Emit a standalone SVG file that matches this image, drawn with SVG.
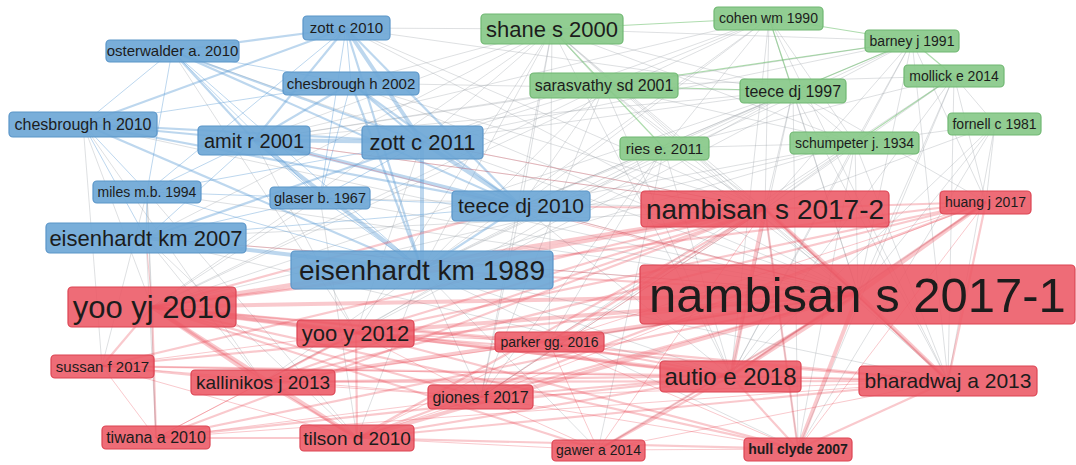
<svg xmlns="http://www.w3.org/2000/svg" width="1076" height="465" viewBox="0 0 1076 465">
<style>
.eg{stroke:#9aa2a6;stroke-opacity:.33;stroke-width:1;fill:none}
.en{stroke:#6cbf6c;stroke-opacity:.55;stroke-width:1.2}
.eb{stroke:#5b9bd5;stroke-opacity:.4}
.er{stroke:#ea3c4c;stroke-opacity:.28}
.w1{stroke-width:1}
.w2{stroke-width:2.2}
.w3{stroke-width:4}
.nb{fill:#6ea7d6;stroke:#5a95c8;stroke-width:1.2;fill-opacity:.92}
.ng{fill:#88c989;stroke:#70b872;stroke-width:1.2;fill-opacity:.92}
.nr{fill:#ec5864;stroke:#dc4453;stroke-width:1.2;fill-opacity:.88}
text{font-family:"Liberation Sans",Arial,sans-serif;fill:#1c1c1c;text-anchor:middle}
</style>
<rect width="1076" height="465" fill="#ffffff"/>
<g id="connectors">
<g class="eg">
<line x1="552" y1="29" x2="604" y2="86"/><line x1="552" y1="29" x2="793" y2="91"/><line x1="552" y1="29" x2="912" y2="41"/>
<line x1="552" y1="29" x2="422" y2="142"/><line x1="552" y1="29" x2="254" y2="140"/><line x1="552" y1="29" x2="422" y2="270"/>
<line x1="552" y1="29" x2="521" y2="206"/><line x1="552" y1="29" x2="765" y2="209"/><line x1="552" y1="29" x2="858" y2="294"/>
<line x1="552" y1="29" x2="731" y2="376"/><line x1="552" y1="29" x2="152" y2="307"/><line x1="552" y1="29" x2="351" y2="83"/>
<line x1="552" y1="29" x2="346" y2="28"/><line x1="552" y1="29" x2="855" y2="143"/><line x1="552" y1="29" x2="481" y2="397"/>
<line x1="552" y1="29" x2="549" y2="342"/><line x1="552" y1="29" x2="146" y2="238"/><line x1="552" y1="29" x2="356" y2="333"/>
<line x1="552" y1="29" x2="948" y2="381"/>
<line x1="604" y1="86" x2="765" y2="209"/><line x1="604" y1="86" x2="858" y2="294"/><line x1="604" y1="86" x2="521" y2="206"/>
<line x1="604" y1="86" x2="422" y2="270"/><line x1="604" y1="86" x2="422" y2="142"/><line x1="604" y1="86" x2="731" y2="376"/>
<line x1="604" y1="86" x2="855" y2="143"/><line x1="604" y1="86" x2="769" y2="18"/><line x1="604" y1="86" x2="481" y2="397"/>
<line x1="604" y1="86" x2="954" y2="76"/><line x1="604" y1="86" x2="152" y2="307"/><line x1="604" y1="86" x2="254" y2="140"/>
<line x1="769" y1="18" x2="858" y2="294"/><line x1="769" y1="18" x2="765" y2="209"/><line x1="769" y1="18" x2="521" y2="206"/>
<line x1="769" y1="18" x2="422" y2="142"/><line x1="769" y1="18" x2="254" y2="140"/><line x1="769" y1="18" x2="422" y2="270"/>
<line x1="769" y1="18" x2="855" y2="143"/><line x1="769" y1="18" x2="948" y2="381"/><line x1="769" y1="18" x2="152" y2="307"/>
<line x1="769" y1="18" x2="664" y2="148"/><line x1="769" y1="18" x2="731" y2="376"/>
<line x1="912" y1="41" x2="858" y2="294"/><line x1="912" y1="41" x2="765" y2="209"/><line x1="912" y1="41" x2="521" y2="206"/>
<line x1="912" y1="41" x2="422" y2="142"/><line x1="912" y1="41" x2="254" y2="140"/><line x1="912" y1="41" x2="422" y2="270"/>
<line x1="912" y1="41" x2="855" y2="143"/><line x1="912" y1="41" x2="986" y2="202"/><line x1="912" y1="41" x2="356" y2="333"/>
<line x1="912" y1="41" x2="731" y2="376"/><line x1="912" y1="41" x2="948" y2="381"/>
<line x1="793" y1="91" x2="858" y2="294"/><line x1="793" y1="91" x2="765" y2="209"/><line x1="793" y1="91" x2="521" y2="206"/>
<line x1="793" y1="91" x2="422" y2="142"/><line x1="793" y1="91" x2="254" y2="140"/><line x1="793" y1="91" x2="422" y2="270"/>
<line x1="793" y1="91" x2="855" y2="143"/><line x1="793" y1="91" x2="731" y2="376"/><line x1="793" y1="91" x2="948" y2="381"/>
<line x1="793" y1="91" x2="152" y2="307"/><line x1="793" y1="91" x2="664" y2="148"/><line x1="793" y1="91" x2="263" y2="382"/>
<line x1="793" y1="91" x2="351" y2="83"/><line x1="793" y1="91" x2="346" y2="28"/><line x1="793" y1="91" x2="986" y2="202"/>
<line x1="793" y1="91" x2="798" y2="449"/>
<line x1="954" y1="76" x2="858" y2="294"/><line x1="954" y1="76" x2="765" y2="209"/><line x1="954" y1="76" x2="664" y2="148"/>
<line x1="954" y1="76" x2="995" y2="124"/><line x1="954" y1="76" x2="731" y2="376"/><line x1="954" y1="76" x2="986" y2="202"/>
<line x1="954" y1="76" x2="948" y2="381"/><line x1="954" y1="76" x2="549" y2="342"/><line x1="954" y1="76" x2="798" y2="449"/>
<line x1="664" y1="148" x2="858" y2="294"/><line x1="664" y1="148" x2="765" y2="209"/><line x1="664" y1="148" x2="521" y2="206"/>
<line x1="664" y1="148" x2="422" y2="270"/><line x1="664" y1="148" x2="731" y2="376"/><line x1="664" y1="148" x2="481" y2="397"/>
<line x1="664" y1="148" x2="356" y2="333"/><line x1="664" y1="148" x2="855" y2="143"/><line x1="664" y1="148" x2="549" y2="342"/>
<line x1="664" y1="148" x2="598" y2="450"/>
<line x1="855" y1="143" x2="858" y2="294"/><line x1="855" y1="143" x2="765" y2="209"/><line x1="855" y1="143" x2="731" y2="376"/>
<line x1="855" y1="143" x2="948" y2="381"/><line x1="855" y1="143" x2="521" y2="206"/><line x1="855" y1="143" x2="422" y2="270"/>
<line x1="855" y1="143" x2="481" y2="397"/><line x1="855" y1="143" x2="995" y2="124"/><line x1="855" y1="143" x2="798" y2="449"/>
<line x1="855" y1="143" x2="152" y2="307"/>
<line x1="995" y1="124" x2="858" y2="294"/><line x1="995" y1="124" x2="948" y2="381"/><line x1="995" y1="124" x2="986" y2="202"/>
<line x1="995" y1="124" x2="798" y2="449"/><line x1="995" y1="124" x2="765" y2="209"/><line x1="995" y1="124" x2="731" y2="376"/>
<line x1="146" y1="238" x2="858" y2="294"/><line x1="146" y1="238" x2="357" y2="438"/><line x1="146" y1="238" x2="263" y2="382"/>
<line x1="146" y1="238" x2="765" y2="209"/><line x1="147" y1="192" x2="152" y2="307"/><line x1="147" y1="192" x2="858" y2="294"/>
<line x1="147" y1="192" x2="156" y2="438"/><line x1="320" y1="198" x2="858" y2="294"/><line x1="320" y1="198" x2="152" y2="307"/>
<line x1="320" y1="198" x2="765" y2="209"/><line x1="83" y1="124" x2="152" y2="307"/><line x1="83" y1="124" x2="858" y2="294"/>
<line x1="83" y1="124" x2="102" y2="366"/><line x1="83" y1="124" x2="263" y2="382"/><line x1="172" y1="51" x2="858" y2="294"/>
<line x1="172" y1="51" x2="356" y2="333"/><line x1="254" y1="140" x2="765" y2="209"/><line x1="254" y1="140" x2="356" y2="333"/>
<line x1="422" y1="142" x2="765" y2="209"/><line x1="422" y1="142" x2="356" y2="333"/><line x1="521" y1="206" x2="858" y2="294"/>
<line x1="521" y1="206" x2="731" y2="376"/><line x1="521" y1="206" x2="481" y2="397"/><line x1="422" y1="270" x2="357" y2="438"/>
<line x1="422" y1="270" x2="263" y2="382"/><line x1="422" y1="270" x2="731" y2="376"/><line x1="422" y1="270" x2="948" y2="381"/>
<line x1="422" y1="270" x2="481" y2="397"/><line x1="346" y1="28" x2="765" y2="209"/><line x1="351" y1="83" x2="765" y2="209"/>
<line x1="351" y1="83" x2="858" y2="294"/><line x1="146" y1="238" x2="731" y2="376"/><line x1="147" y1="192" x2="357" y2="438"/>
<line x1="147" y1="192" x2="102" y2="366"/><line x1="320" y1="198" x2="357" y2="438"/><line x1="422" y1="270" x2="798" y2="449"/>
<line x1="422" y1="270" x2="598" y2="450"/><line x1="346" y1="28" x2="858" y2="294"/><line x1="156" y1="438" x2="146" y2="238"/>
<line x1="798" y1="449" x2="765" y2="209"/><line x1="731" y1="376" x2="986" y2="202"/><line x1="948" y1="381" x2="765" y2="209"/>
<line x1="598" y1="450" x2="858" y2="294"/><line x1="549" y1="342" x2="858" y2="294"/><line x1="481" y1="397" x2="765" y2="209"/>
</g>
<g class="en">
<line x1="552" y1="29" x2="664" y2="148"/><line x1="912" y1="41" x2="604" y2="86"/><line x1="912" y1="41" x2="793" y2="91"/>
<line x1="769" y1="18" x2="912" y2="41"/><line x1="912" y1="41" x2="954" y2="76"/><line x1="954" y1="76" x2="855" y2="143"/>
<line x1="552" y1="29" x2="769" y2="18"/><line x1="793" y1="91" x2="604" y2="86"/><line x1="769" y1="18" x2="793" y2="91"/>
</g>
<g class="eb">
<line class="w3" x1="254" y1="140" x2="422" y2="142"/><line class="w3" x1="422" y1="142" x2="521" y2="206"/>
<line class="w3" x1="346" y1="28" x2="422" y2="142"/><line class="w3" x1="146" y1="238" x2="422" y2="270"/>
<line class="w3" x1="422" y1="142" x2="422" y2="270"/><line class="w3" x1="254" y1="140" x2="422" y2="270"/>
<line class="w3" x1="254" y1="140" x2="521" y2="206"/>
<line class="w2" x1="346" y1="28" x2="254" y2="140"/><line class="w2" x1="346" y1="28" x2="521" y2="206"/>
<line class="w2" x1="346" y1="28" x2="422" y2="270"/><line class="w2" x1="351" y1="83" x2="422" y2="142"/>
<line class="w2" x1="351" y1="83" x2="254" y2="140"/><line class="w2" x1="351" y1="83" x2="521" y2="206"/>
<line class="w2" x1="172" y1="51" x2="254" y2="140"/><line class="w2" x1="172" y1="51" x2="422" y2="142"/>
<line class="w2" x1="83" y1="124" x2="254" y2="140"/><line class="w2" x1="83" y1="124" x2="422" y2="142"/>
<line class="w2" x1="521" y1="206" x2="422" y2="270"/><line class="w2" x1="83" y1="124" x2="422" y2="270"/>
<line class="w2" x1="346" y1="28" x2="83" y2="124"/><line class="w2" x1="346" y1="28" x2="172" y2="51"/>
<line class="w2" x1="172" y1="51" x2="521" y2="206"/><line class="w2" x1="351" y1="83" x2="422" y2="270"/>
<line class="w2" x1="146" y1="238" x2="422" y2="142"/><line class="w2" x1="83" y1="124" x2="521" y2="206"/>
<line class="w1" x1="172" y1="51" x2="83" y2="124"/><line class="w1" x1="172" y1="51" x2="422" y2="270"/>
<line class="w1" x1="83" y1="124" x2="147" y2="192"/><line class="w1" x1="83" y1="124" x2="146" y2="238"/>
<line class="w1" x1="147" y1="192" x2="422" y2="270"/><line class="w1" x1="147" y1="192" x2="320" y2="198"/>
<line class="w1" x1="320" y1="198" x2="422" y2="270"/><line class="w1" x1="320" y1="198" x2="254" y2="140"/>
<line class="w1" x1="320" y1="198" x2="422" y2="142"/><line class="w1" x1="147" y1="192" x2="422" y2="142"/>
<line class="w1" x1="146" y1="238" x2="254" y2="140"/><line class="w1" x1="146" y1="238" x2="521" y2="206"/>
<line class="w1" x1="346" y1="28" x2="351" y2="83"/><line class="w1" x1="351" y1="83" x2="83" y2="124"/>
<line class="w1" x1="172" y1="51" x2="351" y2="83"/><line class="w1" x1="147" y1="192" x2="254" y2="140"/>
<line class="w1" x1="320" y1="198" x2="521" y2="206"/><line class="w1" x1="146" y1="238" x2="147" y2="192"/>
<line class="w1" x1="172" y1="51" x2="320" y2="198"/><line class="w1" x1="172" y1="51" x2="147" y2="192"/>
<line class="w1" x1="346" y1="28" x2="320" y2="198"/><line class="w1" x1="346" y1="28" x2="147" y2="192"/>
<line class="w1" x1="351" y1="83" x2="320" y2="198"/><line class="w1" x1="146" y1="238" x2="320" y2="198"/>
</g>
<g class="er">
<line class="w3" x1="152" y1="307" x2="858" y2="294"/><line class="w3" x1="152" y1="307" x2="765" y2="209"/>
<line class="w3" x1="858" y1="294" x2="765" y2="209"/><line class="w3" x1="858" y1="294" x2="731" y2="376"/>
<line class="w3" x1="858" y1="294" x2="948" y2="381"/><line class="w3" x1="858" y1="294" x2="798" y2="449"/>
<line class="w3" x1="356" y1="333" x2="858" y2="294"/><line class="w3" x1="152" y1="307" x2="356" y2="333"/>
<line class="w3" x1="152" y1="307" x2="263" y2="382"/><line class="w3" x1="263" y1="382" x2="858" y2="294"/>
<line class="w3" x1="357" y1="438" x2="858" y2="294"/><line class="w3" x1="986" y1="202" x2="858" y2="294"/>
<line class="w3" x1="152" y1="307" x2="357" y2="438"/><line class="w3" x1="765" y1="209" x2="731" y2="376"/>
<line class="w3" x1="152" y1="307" x2="731" y2="376"/><line class="w3" x1="422" y1="270" x2="765" y2="209"/>
<line class="w2" x1="152" y1="307" x2="948" y2="381"/><line class="w2" x1="356" y1="333" x2="765" y2="209"/>
<line class="w2" x1="263" y1="382" x2="765" y2="209"/><line class="w2" x1="357" y1="438" x2="765" y2="209"/>
<line class="w2" x1="986" y1="202" x2="765" y2="209"/><line class="w2" x1="986" y1="202" x2="152" y2="307"/>
<line class="w2" x1="986" y1="202" x2="356" y2="333"/><line class="w2" x1="986" y1="202" x2="263" y2="382"/>
<line class="w2" x1="102" y1="366" x2="858" y2="294"/><line class="w2" x1="102" y1="366" x2="152" y2="307"/>
<line class="w2" x1="102" y1="366" x2="263" y2="382"/><line class="w2" x1="156" y1="438" x2="858" y2="294"/>
<line class="w2" x1="156" y1="438" x2="152" y2="307"/><line class="w2" x1="156" y1="438" x2="357" y2="438"/>
<line class="w2" x1="263" y1="382" x2="357" y2="438"/><line class="w2" x1="356" y1="333" x2="263" y2="382"/>
<line class="w2" x1="356" y1="333" x2="731" y2="376"/><line class="w2" x1="731" y1="376" x2="948" y2="381"/>
<line class="w2" x1="731" y1="376" x2="798" y2="449"/><line class="w2" x1="948" y1="381" x2="798" y2="449"/>
<line class="w2" x1="481" y1="397" x2="858" y2="294"/><line class="w2" x1="481" y1="397" x2="731" y2="376"/>
<line class="w2" x1="549" y1="342" x2="858" y2="294"/><line class="w2" x1="549" y1="342" x2="765" y2="209"/>
<line class="w2" x1="598" y1="450" x2="858" y2="294"/><line class="w2" x1="598" y1="450" x2="731" y2="376"/>
<line class="w2" x1="798" y1="449" x2="765" y2="209"/><line class="w2" x1="798" y1="449" x2="152" y2="307"/>
<line class="w2" x1="422" y1="270" x2="858" y2="294"/><line class="w2" x1="422" y1="270" x2="152" y2="307"/>
<line class="w2" x1="521" y1="206" x2="765" y2="209"/><line class="w2" x1="357" y1="438" x2="731" y2="376"/>
<line class="w2" x1="263" y1="382" x2="731" y2="376"/><line class="w2" x1="356" y1="333" x2="948" y2="381"/>
<line class="w2" x1="102" y1="366" x2="765" y2="209"/><line class="w2" x1="156" y1="438" x2="765" y2="209"/>
<line class="w2" x1="481" y1="397" x2="152" y2="307"/><line class="w2" x1="549" y1="342" x2="152" y2="307"/>
<line class="w2" x1="356" y1="333" x2="357" y2="438"/><line class="w2" x1="263" y1="382" x2="948" y2="381"/>
<line class="w2" x1="357" y1="438" x2="948" y2="381"/><line class="w2" x1="156" y1="438" x2="731" y2="376"/>
<line class="w2" x1="549" y1="342" x2="731" y2="376"/><line class="w2" x1="798" y1="449" x2="357" y2="438"/>
<line class="w2" x1="356" y1="333" x2="798" y2="449"/><line class="w2" x1="986" y1="202" x2="731" y2="376"/>
<line class="w2" x1="986" y1="202" x2="357" y2="438"/><line class="w2" x1="986" y1="202" x2="948" y2="381"/>
<line class="w2" x1="152" y1="307" x2="521" y2="206"/><line class="w2" x1="598" y1="450" x2="152" y2="307"/>
<line class="w2" x1="948" y1="381" x2="765" y2="209"/><line class="w2" x1="102" y1="366" x2="731" y2="376"/>
<line class="w1" x1="102" y1="366" x2="156" y2="438"/><line class="w1" x1="102" y1="366" x2="357" y2="438"/>
<line class="w1" x1="156" y1="438" x2="263" y2="382"/><line class="w1" x1="156" y1="438" x2="356" y2="333"/>
<line class="w1" x1="481" y1="397" x2="357" y2="438"/><line class="w1" x1="481" y1="397" x2="263" y2="382"/>
<line class="w1" x1="481" y1="397" x2="356" y2="333"/><line class="w1" x1="549" y1="342" x2="356" y2="333"/>
<line class="w1" x1="549" y1="342" x2="263" y2="382"/><line class="w1" x1="549" y1="342" x2="357" y2="438"/>
<line class="w1" x1="598" y1="450" x2="481" y2="397"/><line class="w1" x1="598" y1="450" x2="798" y2="449"/>
<line class="w1" x1="598" y1="450" x2="948" y2="381"/><line class="w1" x1="598" y1="450" x2="765" y2="209"/>
<line class="w1" x1="598" y1="450" x2="549" y2="342"/><line class="w1" x1="798" y1="449" x2="549" y2="342"/>
<line class="w1" x1="798" y1="449" x2="481" y2="397"/><line class="w1" x1="156" y1="438" x2="948" y2="381"/>
<line class="w1" x1="156" y1="438" x2="481" y2="397"/><line class="w1" x1="102" y1="366" x2="356" y2="333"/>
<line class="w1" x1="986" y1="202" x2="549" y2="342"/><line class="w1" x1="986" y1="202" x2="481" y2="397"/>
<line class="w1" x1="102" y1="366" x2="481" y2="397"/><line class="w1" x1="765" y1="209" x2="481" y2="397"/>
<line class="w1" x1="146" y1="238" x2="152" y2="307"/><line class="w1" x1="858" y1="294" x2="254" y2="140"/>
<line class="w1" x1="765" y1="209" x2="422" y2="142"/><line class="w1" x1="858" y1="294" x2="521" y2="206"/>
<line class="w1" x1="765" y1="209" x2="254" y2="140"/><line class="w1" x1="146" y1="238" x2="858" y2="294"/>
<line class="w1" x1="598" y1="450" x2="357" y2="438"/><line class="w1" x1="986" y1="202" x2="798" y2="449"/>
<line class="w1" x1="102" y1="366" x2="948" y2="381"/><line class="w1" x1="481" y1="397" x2="948" y2="381"/>
</g>
</g>
<g id="n-zott-c-2010"><rect class="nb" x="303" y="16" width="87" height="24" rx="4"/><text x="346.5" y="33.3" font-size="15">zott c 2010</text></g>
<g id="n-osterwalder-a-2010"><rect class="nb" x="106" y="40" width="133" height="22" rx="4"/><text x="172.5" y="56.3" font-size="15">osterwalder a. 2010</text></g>
<g id="n-chesbrough-h-2002"><rect class="nb" x="283" y="72" width="136" height="23" rx="4"/><text x="351" y="88.8" font-size="15">chesbrough h 2002</text></g>
<g id="n-chesbrough-h-2010"><rect class="nb" x="9" y="112" width="148" height="25" rx="4"/><text x="83" y="130.1" font-size="16">chesbrough h 2010</text></g>
<g id="n-amit-r-2001"><rect class="nb" x="198" y="126" width="112" height="29" rx="4"/><text x="254" y="147.5" font-size="20">amit r 2001</text></g>
<g id="n-zott-c-2011"><rect class="nb" x="362" y="126" width="121" height="33" rx="4"/><text x="422.5" y="150.2" font-size="22">zott c 2011</text></g>
<g id="n-miles-mb-1994"><rect class="nb" x="93" y="181" width="108" height="22" rx="4"/><text x="147" y="196.9" font-size="14">miles m.b. 1994</text></g>
<g id="n-glaser-b-1967"><rect class="nb" x="270" y="187" width="100" height="22" rx="4"/><text x="320" y="203" font-size="14.5">glaser b. 1967</text></g>
<g id="n-teece-dj-2010"><rect class="nb" x="452" y="191" width="138" height="30" rx="4"/><text x="521" y="213.4" font-size="21">teece dj 2010</text></g>
<g id="n-eisenhardt-km-2007"><rect class="nb" x="46" y="223" width="200" height="30" rx="4"/><text x="146" y="245.7" font-size="22">eisenhardt km 2007</text></g>
<g id="n-eisenhardt-km-1989"><rect class="nb" x="291" y="251" width="262" height="38" rx="4"/><text x="422" y="279.8" font-size="28">eisenhardt km 1989</text></g>
<g id="n-shane-s-2000"><rect class="ng" x="481" y="14" width="142" height="30" rx="4"/><text x="552" y="36.7" font-size="22">shane s 2000</text></g>
<g id="n-cohen-wm-1990"><rect class="ng" x="714" y="7" width="109" height="23" rx="4"/><text x="768.5" y="23.4" font-size="14">cohen wm 1990</text></g>
<g id="n-barney-j-1991"><rect class="ng" x="865" y="30" width="94" height="22" rx="4"/><text x="912" y="45.9" font-size="14">barney j 1991</text></g>
<g id="n-sarasvathy-sd-2001"><rect class="ng" x="530" y="73" width="148" height="25" rx="4"/><text x="604" y="91.1" font-size="16">sarasvathy sd 2001</text></g>
<g id="n-teece-dj-1997"><rect class="ng" x="740" y="79" width="106" height="24" rx="4"/><text x="793" y="96.6" font-size="16">teece dj 1997</text></g>
<g id="n-mollick-e-2014"><rect class="ng" x="904" y="65" width="100" height="22" rx="4"/><text x="954" y="80.9" font-size="14">mollick e 2014</text></g>
<g id="n-ries-e-2011"><rect class="ng" x="620" y="137" width="89" height="23" rx="4"/><text x="664.5" y="153.8" font-size="15">ries e. 2011</text></g>
<g id="n-schumpeter-j-1934"><rect class="ng" x="790" y="132" width="129" height="22" rx="4"/><text x="854.5" y="147.9" font-size="14">schumpeter j. 1934</text></g>
<g id="n-fornell-c-1981"><rect class="ng" x="948" y="113" width="93" height="22" rx="4"/><text x="994.5" y="128.9" font-size="14">fornell c 1981</text></g>
<g id="n-nambisan-s-2017-2"><rect class="nr" x="641" y="191" width="248" height="36" rx="4"/><text x="765" y="218.8" font-size="28">nambisan s 2017-2</text></g>
<g id="n-huang-j-2017"><rect class="nr" x="940" y="191" width="91" height="23" rx="4"/><text x="985.5" y="207.4" font-size="14">huang j 2017</text></g>
<g id="n-nambisan-s-2017-1"><rect class="nr" x="640" y="265" width="435" height="59" rx="4"/><text x="857.5" y="311.7" font-size="49">nambisan s 2017-1</text></g>
<g id="n-yoo-yj-2010"><rect class="nr" x="68" y="287" width="168" height="40" rx="4"/><text x="152" y="317.9" font-size="31">yoo yj 2010</text></g>
<g id="n-yoo-y-2012"><rect class="nr" x="297" y="320" width="117" height="27" rx="4"/><text x="355.5" y="341.2" font-size="22">yoo y 2012</text></g>
<g id="n-parker-gg-2016"><rect class="nr" x="495" y="332" width="109" height="20" rx="4"/><text x="549.5" y="346.9" font-size="14">parker gg. 2016</text></g>
<g id="n-sussan-f-2017"><rect class="nr" x="51" y="355" width="103" height="23" rx="4"/><text x="102.5" y="371.8" font-size="15">sussan f 2017</text></g>
<g id="n-kallinikos-j-2013"><rect class="nr" x="191" y="370" width="144" height="25" rx="4"/><text x="263" y="389.2" font-size="19">kallinikos j 2013</text></g>
<g id="n-autio-e-2018"><rect class="nr" x="660" y="361" width="141" height="31" rx="4"/><text x="730.5" y="384.9" font-size="24">autio e 2018</text></g>
<g id="n-bharadwaj-a-2013"><rect class="nr" x="859" y="366" width="178" height="30" rx="4"/><text x="948" y="388.4" font-size="21">bharadwaj a 2013</text></g>
<g id="n-giones-f-2017"><rect class="nr" x="428" y="385" width="105" height="24" rx="4"/><text x="480.5" y="402.6" font-size="16">giones f 2017</text></g>
<g id="n-tiwana-a-2010"><rect class="nr" x="102" y="426" width="108" height="23" rx="4"/><text x="156" y="443.1" font-size="16">tiwana a 2010</text></g>
<g id="n-tilson-d-2010"><rect class="nr" x="300" y="425" width="114" height="26" rx="4"/><text x="357" y="444.7" font-size="19">tilson d 2010</text></g>
<g id="n-gawer-a-2014"><rect class="nr" x="552" y="440" width="93" height="21" rx="4"/><text x="598.5" y="455.4" font-size="14">gawer a 2014</text></g>
<g id="n-hull-clyde-2007"><rect class="nr" x="744" y="438" width="108" height="23" rx="4"/><text x="798" y="454.4" font-size="14" font-weight="bold">hull clyde 2007</text></g>
</svg>
